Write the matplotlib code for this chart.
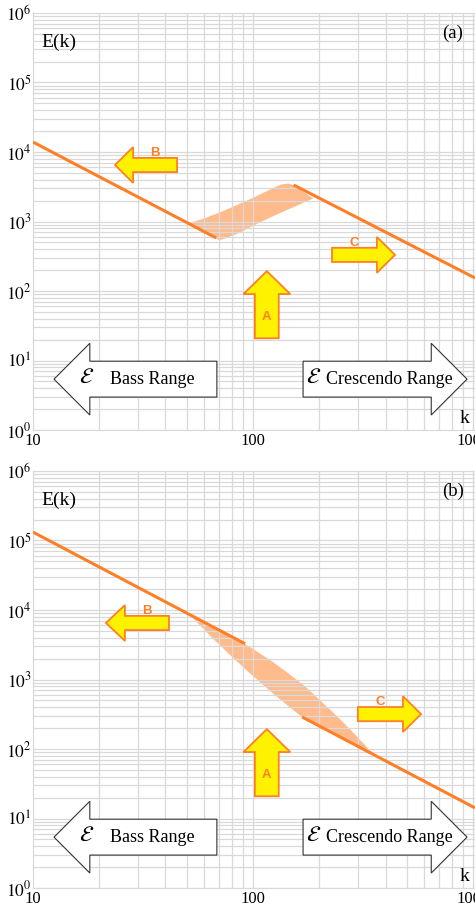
import numpy as np
import matplotlib
matplotlib.use('Agg')
import matplotlib.pyplot as plt
from matplotlib.patches import FancyArrow
from matplotlib.ticker import LogLocator, FixedLocator, FuncFormatter, NullFormatter

plt.rcParams['font.family'] = ['Liberation Serif', 'DejaVu Serif']
plt.rcParams['mathtext.fontset'] = 'stix'

# panel (a): -5/3 lines either side of the bump, and the bump band
a_left_k = [10, 68]
a_left_E = [13900, 580]
a_right_k = [153, 1020]
a_right_E = [3350, 154]
a_band_k = [52, 60, 70, 85, 100, 119, 133, 144, 153, 169, 187]
a_band_hi = [984, 1130, 1370, 1780, 2250, 2930, 3465, 3580, 3350, 2700, 2178]
a_band_lo = [891, 702, 543, 683, 887, 1160, 1360, 1520, 1650, 1905, 2178]

# panel (b): upper and lower lines joined by a lens-shaped band
b_left_k = [10, 92]
b_left_E = [132000, 3265]
b_right_k = [167, 1020]
b_right_E = [289, 14.2]
b_band_k = [52, 60, 67, 70, 80, 92, 105, 120, 140, 160, 167, 185, 210, 240, 276, 310, 351]
b_band_hi = [8420, 6670, 5650, 5160, 4125, 3265, 2500, 1900, 1330, 960, 870, 650, 445, 300, 192, 130, 86]
b_band_lo = [8300, 5215, 3655, 3215, 2142, 1419, 979, 679, 452, 322, 289, 244, 197, 158, 125, 103, 86]

x_ticks = [10, 100, 1000]
x_labels = ['10', '100', '1000']
y_ticks = [1, 10, 100, 1000, 1e4, 1e5, 1e6]

LINE = '#FF7F27'
BAND = '#FFBB8C'
YELLOW = '#FFF200'
GRID = '#D9D9D9'

fig = plt.figure(figsize=(4.75, 9.08), dpi=100)


def small_arrow(ax, x, y, dx, dy, width, head_w, head_l, letter, lx, ly):
    ax.add_patch(FancyArrow(x, y, dx, dy, width=width, head_width=head_w, head_length=head_l,
                            length_includes_head=True, fc=YELLOW, ec=LINE, lw=1.3,
                            transform=ax.transAxes, zorder=5))
    ax.text(lx, ly, letter, transform=ax.transAxes, color=LINE, fontsize=9.5, fontweight='bold',
            family='Liberation Sans', ha='center', va='center', zorder=6)


def big_arrow(ax, x, dx):
    ax.add_patch(FancyArrow(x, 0.122, dx, 0, width=0.086, head_width=0.172, head_length=0.081,
                            length_includes_head=True, fc='white', ec='#333333', lw=0.8,
                            transform=ax.transAxes, zorder=5))


def setup(ax, tag):
    ax.set_xscale('log')
    ax.set_yscale('log')
    ax.set_xlim(10, 1020)
    ax.set_ylim(1, 1e6)
    ax.xaxis.set_major_locator(FixedLocator(x_ticks))
    ax.xaxis.set_major_formatter(FuncFormatter(lambda v, p: x_labels[x_ticks.index(int(round(v)))]
                                               if int(round(v)) in x_ticks else ''))
    ax.xaxis.set_minor_locator(LogLocator(base=10, subs=np.arange(2, 10), numticks=100))
    ax.xaxis.set_minor_formatter(NullFormatter())
    ax.yaxis.set_major_locator(FixedLocator(y_ticks))
    ax.yaxis.set_major_formatter(FuncFormatter(lambda v, p: r'$10^{%d}$' % int(round(np.log10(v)))))
    ax.yaxis.set_minor_locator(LogLocator(base=10, subs=np.arange(2, 10), numticks=100))
    ax.yaxis.set_minor_formatter(NullFormatter())
    ax.grid(True, which='both', color=GRID, lw=0.9)
    ax.tick_params(which='both', length=0)
    ax.tick_params(axis='y', pad=1, labelsize=12.5)
    ax.tick_params(axis='x', pad=2, labelsize=12)
    for s in ax.spines.values():
        s.set_color(GRID)
    ax.text(0.018, 0.93, 'E(k)', transform=ax.transAxes, fontsize=14, va='center')
    ax.text(0.95, 0.952, tag, transform=ax.transAxes, fontsize=13.5, ha='center', va='center')
    ax.text(0.977, 0.028, 'k', transform=ax.transAxes, fontsize=14, ha='center', va='center')

    # bass / crescendo block arrows
    big_arrow(ax, 0.416, -0.3685)
    big_arrow(ax, 0.611, 0.371)
    ax.text(0.122, 0.124, r'$\mathcal{E}$', transform=ax.transAxes, fontsize=16, ha='center', va='center', zorder=6)
    ax.text(0.174, 0.12, 'Bass Range', transform=ax.transAxes, fontsize=13, ha='left', va='center', zorder=6)
    ax.text(0.634, 0.124, r'$\mathcal{E}$', transform=ax.transAxes, fontsize=16, ha='center', va='center', zorder=6)
    ax.text(0.663, 0.12, 'Crescendo Range', transform=ax.transAxes, fontsize=13, ha='left', va='center', zorder=6)

    # up arrow A
    small_arrow(ax, 0.529, 0.22, 0, 0.161, 0.054, 0.106, 0.055, 'A', 0.529, 0.271)


ax_a = fig.add_axes([0.0695, 0.5264, 0.9305, 0.4593])
setup(ax_a, '(a)')
ax_a.fill_between(a_band_k, a_band_lo, a_band_hi, color=BAND, lw=0, zorder=1)
ax_a.plot(a_left_k, a_left_E, color=LINE, lw=2.2, solid_capstyle='butt', zorder=3)
ax_a.plot(a_right_k, a_right_E, color=LINE, lw=2.2, solid_capstyle='butt', zorder=3)
small_arrow(ax_a, 0.326, 0.6355, -0.1405, 0, 0.034, 0.086, 0.041, 'B', 0.276, 0.664)
small_arrow(ax_a, 0.6765, 0.42, 0.1425, 0, 0.034, 0.086, 0.041, 'C', 0.726, 0.448)

ax_b = fig.add_axes([0.0695, 0.022, 0.9305, 0.4593])
setup(ax_b, '(b)')
ax_b.fill_between(b_band_k, b_band_lo, b_band_hi, color=BAND, lw=0, zorder=1)
ax_b.plot(b_left_k, b_left_E, color=LINE, lw=2.2, solid_capstyle='butt', zorder=3)
ax_b.plot(b_right_k, b_right_E, color=LINE, lw=2.2, solid_capstyle='butt', zorder=3)
small_arrow(ax_b, 0.3077, 0.6355, -0.1427, 0, 0.034, 0.086, 0.043, 'B', 0.258, 0.664)
small_arrow(ax_b, 0.735, 0.417, 0.143, 0, 0.034, 0.086, 0.041, 'C', 0.785, 0.446)

fig.savefig('out.png', dpi=100)
